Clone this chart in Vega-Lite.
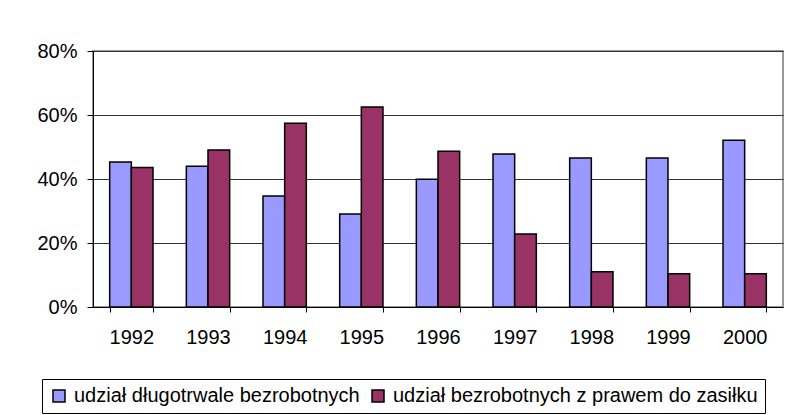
{
  "$schema": "https://vega.github.io/schema/vega-lite/v6.json",
  "autosize": {"type": "none"},
  "width": 690,
  "height": 256,
  "padding": {"left": 93, "top": 51, "right": 10, "bottom": 108},
  "background": "white",
  "config": {
    "font": "Liberation Sans",
    "view": {"stroke": "#999999", "strokeWidth": 2},
    "axis": {"labelFont": "Liberation Sans", "labelFontSize": 20, "labelColor": "#000000"}
  },
  "data": {
    "values": [
      {"year": "1992", "series": "udział długotrwale bezrobotnych", "value": 0.453},
      {"year": "1992", "series": "udział bezrobotnych z prawem do zasiłku", "value": 0.436},
      {"year": "1993", "series": "udział długotrwale bezrobotnych", "value": 0.440},
      {"year": "1993", "series": "udział bezrobotnych z prawem do zasiłku", "value": 0.491},
      {"year": "1994", "series": "udział długotrwale bezrobotnych", "value": 0.347},
      {"year": "1994", "series": "udział bezrobotnych z prawem do zasiłku", "value": 0.574},
      {"year": "1995", "series": "udział długotrwale bezrobotnych", "value": 0.291},
      {"year": "1995", "series": "udział bezrobotnych z prawem do zasiłku", "value": 0.625},
      {"year": "1996", "series": "udział długotrwale bezrobotnych", "value": 0.399},
      {"year": "1996", "series": "udział bezrobotnych z prawem do zasiłku", "value": 0.487},
      {"year": "1997", "series": "udział długotrwale bezrobotnych", "value": 0.478},
      {"year": "1997", "series": "udział bezrobotnych z prawem do zasiłku", "value": 0.228},
      {"year": "1998", "series": "udział długotrwale bezrobotnych", "value": 0.466},
      {"year": "1998", "series": "udział bezrobotnych z prawem do zasiłku", "value": 0.110},
      {"year": "1999", "series": "udział długotrwale bezrobotnych", "value": 0.466},
      {"year": "1999", "series": "udział bezrobotnych z prawem do zasiłku", "value": 0.104},
      {"year": "2000", "series": "udział długotrwale bezrobotnych", "value": 0.521},
      {"year": "2000", "series": "udział bezrobotnych z prawem do zasiłku", "value": 0.104}
    ]
  },
  "mark": {"type": "bar", "stroke": "#000000", "strokeWidth": 1.5},
  "encoding": {
    "x": {
      "field": "year", "type": "nominal", "title": null,
      "scale": {"paddingInner": 0.435, "paddingOuter": 0.2175},
      "axis": {"labelAngle": 0, "tickBand": "extent", "tickColor": "#000000", "tickSize": 5, "domainColor": "#000000", "labelPadding": 15}
    },
    "xOffset": {
      "field": "series", "type": "nominal",
      "sort": ["udział długotrwale bezrobotnych", "udział bezrobotnych z prawem do zasiłku"]
    },
    "y": {
      "field": "value", "type": "quantitative", "title": null,
      "scale": {"domain": [0, 0.8], "nice": false},
      "axis": {"values": [0, 0.2, 0.4, 0.6, 0.8], "format": ".0%", "tickColor": "#000000", "tickSize": 6, "domainColor": "#000000", "gridColor": "#333333", "gridOpacity": 1, "labelPadding": 10}
    },
    "color": {
      "field": "series", "type": "nominal",
      "sort": ["udział długotrwale bezrobotnych", "udział bezrobotnych z prawem do zasiłku"],
      "scale": {"domain": ["udział długotrwale bezrobotnych", "udział bezrobotnych z prawem do zasiłku"], "range": ["#9999FF", "#993366"]},
      "legend": {
        "title": null, "orient": "none", "legendX": -51, "legendY": 328,
        "direction": "horizontal", "columns": 2, "columnPadding": 8,
        "symbolType": "square", "symbolSize": 144, "symbolStrokeColor": "#000000", "symbolStrokeWidth": 1.5, "symbolOpacity": 1,
        "labelFont": "Liberation Sans", "labelFontSize": 20, "labelColor": "#000000", "labelOffset": 5, "labelLimit": 500,
        "strokeColor": "#000000", "fillColor": "#ffffff", "padding": 7
      }
    }
  }
}
